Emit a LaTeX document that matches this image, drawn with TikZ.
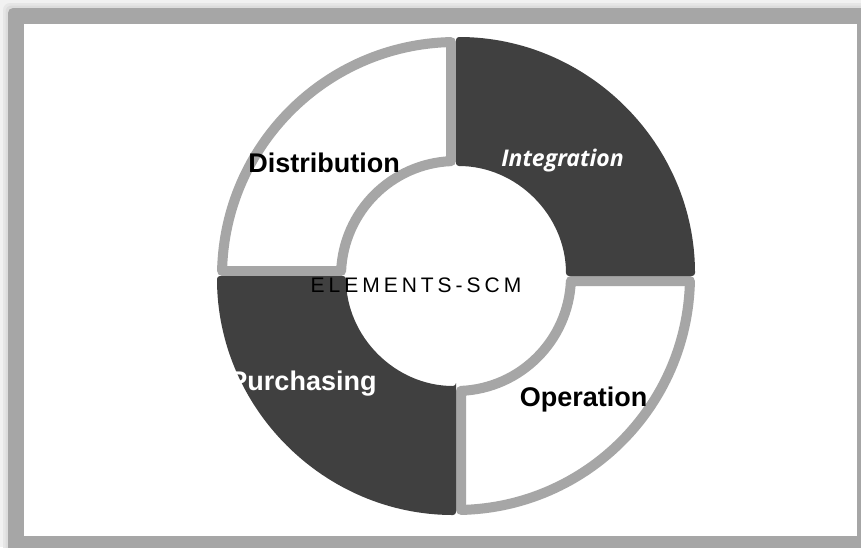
\documentclass[tikz,border=0pt]{standalone}
\usepackage{fontspec}
\setmainfont{Liberation Sans}
\newfontfamily\labelit{Open Sans}
\definecolor{framegray}{HTML}{A6A6A6}
\definecolor{ringgray}{HTML}{A6A6A6}
\definecolor{darkfill}{HTML}{404040}
\definecolor{shadeA}{HTML}{F1F1F1}
\definecolor{shadeB}{HTML}{E6E6E6}
\definecolor{shadeC}{HTML}{DCDCDC}
\begin{document}
\begin{tikzpicture}[x=1pt,y=-1pt,
  whitepart/.style={line width=10pt, draw=ringgray, fill=white, line join=round},
  darkpart/.style={fill=darkfill, rounded corners=3pt},
  lbl/.style={font=\fontsize{27}{30}\selectfont\bfseries, anchor=base, inner sep=0pt}]
\useasboundingbox (0,0) rectangle (861,547);

% soft shadow and frame
\fill[shadeA] (0,0) rectangle (861,547);
\fill[shadeB, rounded corners=7pt] (3,3) rectangle (875,560);
\fill[shadeC, rounded corners=6pt] (5.5,5.5) rectangle (875,560);
\fill[framegray, rounded corners=5pt] (8,8) rectangle (875,560);
\fill[white] (24,24) rectangle (857,536);

\coordinate (C) at (456,276);

% light quadrants (top left, bottom right), outline kept inside the quadrant
\draw[whitepart] ([shift={(C)}]182.49:115) -- ([shift={(C)}]181.224:234)
  arc[start angle=181.224, end angle=268.776, radius=234]
  -- ([shift={(C)}]267.51:115)
  arc[start angle=267.51, end angle=182.49, radius=115] -- cycle;
\draw[whitepart] ([shift={(C)}]2.49:115) -- ([shift={(C)}]1.224:234)
  arc[start angle=1.224, end angle=88.776, radius=234]
  -- ([shift={(C)}]87.51:115)
  arc[start angle=87.51, end angle=2.49, radius=115] -- cycle;

% dark quadrants (top right, bottom left)
\fill[darkpart] ([shift={(C)}]270:110) -- ([shift={(C)}]270:239)
  arc[start angle=270, end angle=360, radius=239]
  -- ([shift={(C)}]360:110)
  arc[start angle=360, end angle=270, radius=110] -- cycle;
\fill[darkpart] ([shift={(C)}]90:110) -- ([shift={(C)}]90:239)
  arc[start angle=90, end angle=180, radius=239]
  -- ([shift={(C)}]180:110)
  arc[start angle=180, end angle=90, radius=110] -- cycle;

% labels
\node[lbl] (dist) at (324,172) {Distribution};
\node[anchor=base, inner sep=0pt, text=white,
  font=\labelit\bfseries\itshape\fontsize{23}{27}\selectfont] (integ) at (562.5,166) {Integration};
\node[lbl, text=white] (purch) at (303,390) {Purchasing};
\node[lbl] (oper) at (583.5,406) {Operation};
\node[anchor=base, inner sep=0pt,
  font=\fontsize{21}{24}\selectfont\addfontfeature{LetterSpace=19}] (center) at (416,292) {ELEMENTS-SCM};
\end{tikzpicture}
\end{document}
